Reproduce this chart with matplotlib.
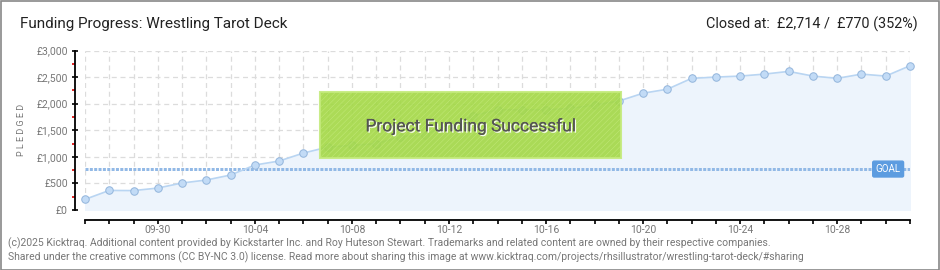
import matplotlib
matplotlib.use("Agg")
import matplotlib.pyplot as plt
import numpy as np
from matplotlib.patches import Rectangle
from matplotlib.ticker import MultipleLocator, FuncFormatter
import matplotlib.patheffects as pe

plt.rcParams['font.family'] = ['Roboto', 'DejaVu Sans']
plt.rcParams['hatch.color'] = "#b4e068"
plt.rcParams['hatch.linewidth'] = 0.35

dates = ["09-27", "09-28", "09-29", "09-30", "10-01", "10-02", "10-03", "10-04",
         "10-05", "10-06", "10-07", "10-08", "10-09", "10-10", "10-11", "10-12",
         "10-13", "10-14", "10-15", "10-16", "10-17", "10-18", "10-19", "10-20",
         "10-21", "10-22", "10-23", "10-24", "10-25", "10-26", "10-27", "10-28",
         "10-29", "10-30", "10-31"]
pledged = [200, 368, 365, 413, 508, 564, 658, 846, 921, 1071, 1183, 1216, 1247,
           1378, 1416, 1600, 1773, 1885, 1885, 1885, 1911, 1974, 2049, 2197, 2272,
           2476, 2500, 2519, 2556, 2607, 2519, 2476, 2556, 2519, 2714]
goal = 770
label_dates = ["09-30", "10-04", "10-08", "10-12", "10-16", "10-20", "10-24", "10-28"]

PX = 0.72  # points per pixel at dpi 100
W, H = 940, 270
fig = plt.figure(figsize=(W / 100, H / 100), dpi=100)
fig.patch.set_facecolor("white")
fig.add_artist(Rectangle((0.5 / W, 0.5 / H), 1 - 1.5 / W, 1 - 1.5 / H, transform=fig.transFigure,
                         fill=False, edgecolor="#888888", lw=1.2))

ax = fig.add_axes([85 / W, 60 / H, 825 / W, 159.5 / H])
x = np.arange(len(dates))
ax.set_xlim(0, len(dates) - 1)
ax.set_ylim(0, 3000)

ax.set_xticks(x)
ax.yaxis.set_major_locator(MultipleLocator(500))
ax.yaxis.set_minor_locator(MultipleLocator(250))
ax.grid(True, which="major", color="#dcdcdc", linestyle=(0, (4, 3)), lw=0.9)
ax.set_axisbelow(True)

ax.fill_between(x, pledged, 0, color="#edf4fc", zorder=1)
ax.plot(x, pledged, color="#b9d5f2", lw=1.2, zorder=3)
ax.plot(x, pledged, "o", ms=7.5 * PX, mfc="#c2dbf6", mec="#94b6dc", mew=1.0 * PX,
        zorder=4, clip_on=False)

ax.axhline(goal, color="#92b9e6", lw=3 * PX, linestyle=(0, (1.0, 0.45)), zorder=2)
ax.text(0.9735, goal, "GOAL", transform=ax.get_yaxis_transform(), ha="center", va="center",
        color="white", fontsize=7, zorder=7,
        bbox=dict(boxstyle="round,pad=0.3,rounding_size=0.15", fc="#5c9ce0", ec="#5c9ce0"))

box = Rectangle((0.285, 0.326), 0.365, 0.415, transform=ax.transAxes, facecolor="#a3d845",
                edgecolor="#c4ea7c", lw=1.5, alpha=0.9, zorder=5, hatch="//////")
ax.add_patch(box)
ax.text(0.4675, 0.525, "Project Funding Successful", transform=ax.transAxes, ha="center",
        va="center", fontsize=12.5, color="#555555", zorder=6,
        path_effects=[pe.withSimplePatchShadow(offset=(1, -1), shadow_rgbFace="white", alpha=0.9),
                      pe.Normal()])

for s in ["top", "right"]:
    ax.spines[s].set_visible(False)
ax.spines["left"].set_position(("outward", 10 * PX))
ax.spines["bottom"].set_position(("outward", 10 * PX))
for s in ["left", "bottom"]:
    ax.spines[s].set_color("black")
    ax.spines[s].set_linewidth(1.3)

ax.tick_params(axis="y", which="major", direction="inout", length=6 * PX, width=1.2, color="black",
               labelsize=7.5, labelcolor="#777777", pad=3)
ax.tick_params(axis="y", which="minor", direction="out", length=3 * PX, width=1.2, color="#dd0000")
ax.yaxis.set_major_formatter(FuncFormatter(lambda v, p: "£{:,.0f}".format(v)))
ax.tick_params(axis="x", which="major", direction="out", length=4 * PX, width=1.2, color="black",
               labelsize=7.5, labelcolor="#777777", pad=1)
ax.set_xticklabels([d if d in label_dates else "" for d in dates])

fig.text(22 / W, 1 - 130 / H, "P L E D G E D", rotation=90, fontsize=6.5, color="#777777",
         ha="center", va="center")

fig.text(20 / W, 1 - 24 / H, "Funding Progress: Wrestling Tarot Deck", fontsize=11, color="#222222",
         ha="left", va="center")
fig.text(918 / W, 1 - 24 / H, "Closed at:  £2,714 /  £770 (352%)", fontsize=10.4, color="#222222",
         ha="right", va="center")

fig.text(8 / W, 1 - 243 / H,
         "(c)2025 Kicktraq. Additional content provided by Kickstarter Inc. and Roy Huteson Stewart. "
         "Trademarks and related content are owned by their respective companies.",
         fontsize=7.5, color="#777777", ha="left", va="center")
fig.text(8 / W, 1 - 257 / H,
         "Shared under the creative commons (CC BY-NC 3.0) license. Read more about sharing this image at "
         "www.kicktraq.com/projects/rhsillustrator/wrestling-tarot-deck/#sharing",
         fontsize=7.5, color="#777777", ha="left", va="center")

fig.savefig("out.png", dpi=100)
